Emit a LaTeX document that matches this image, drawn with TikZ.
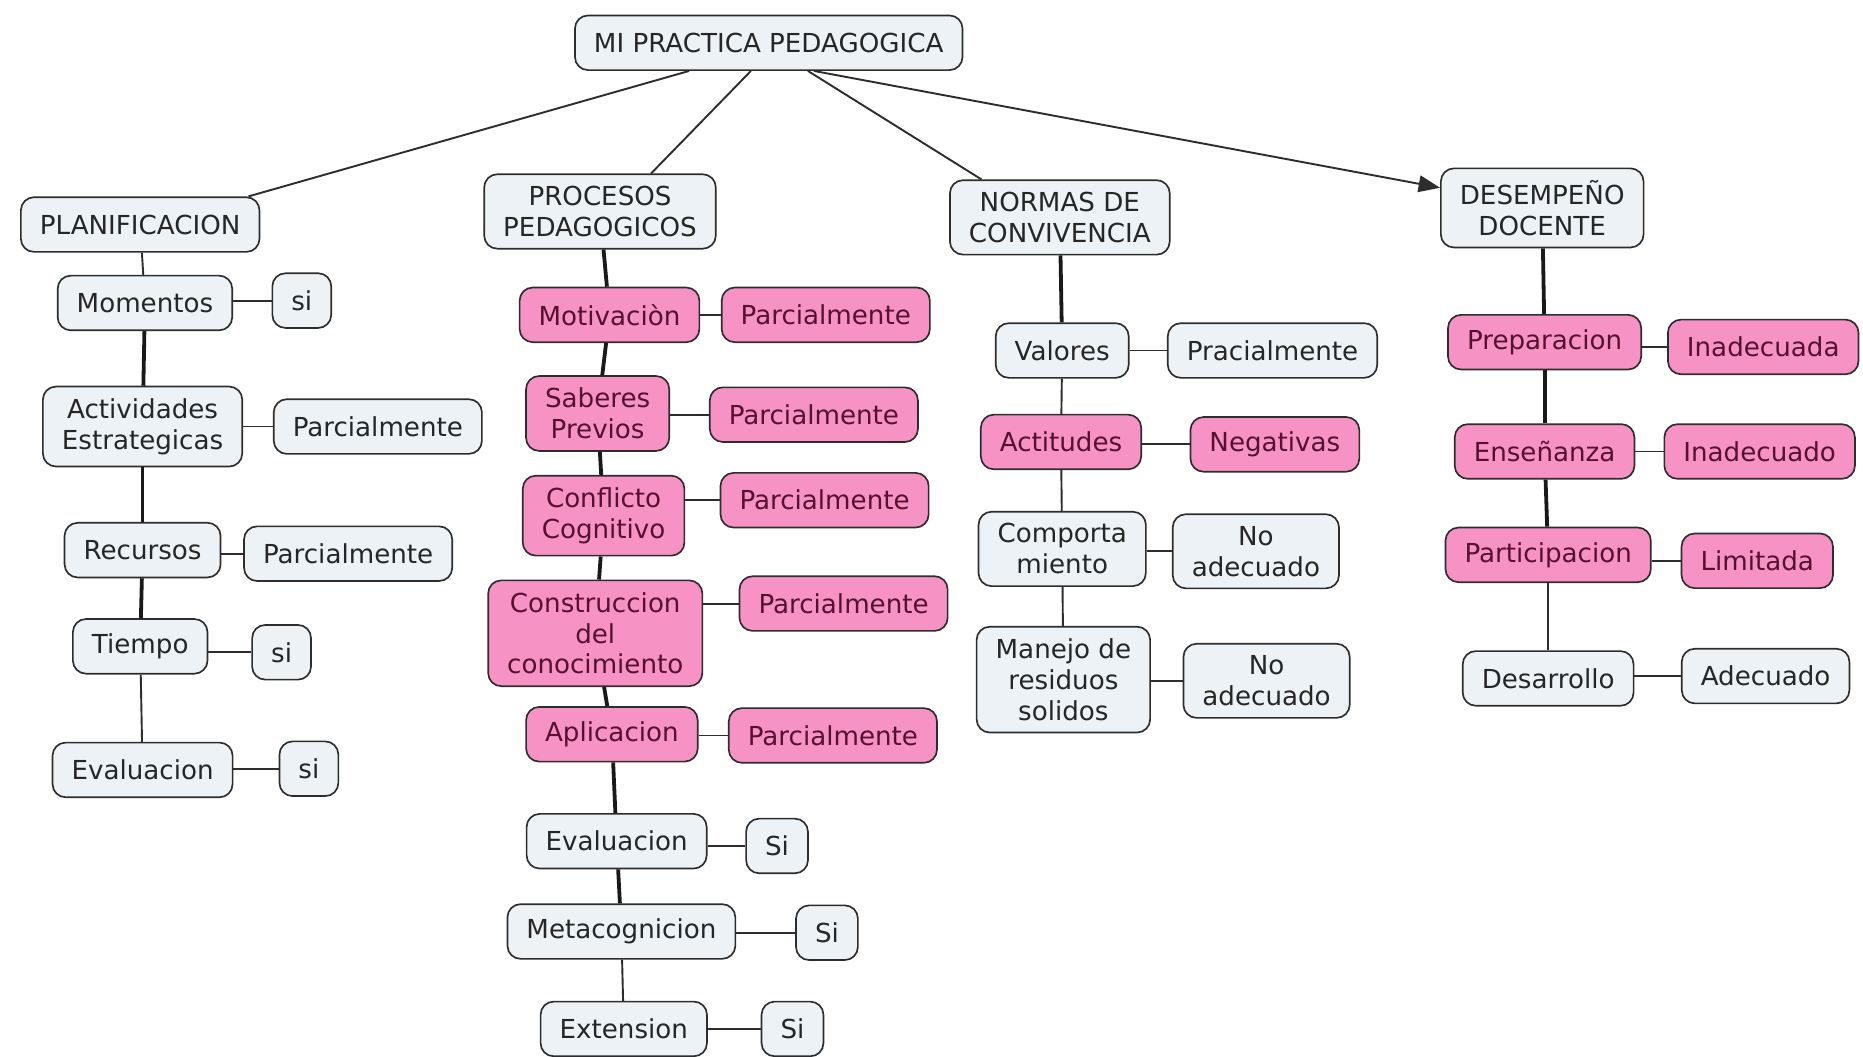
\documentclass[tikz,border=0pt]{standalone}
\usepackage{fontspec}
\setmainfont{DejaVu Sans}
\usepackage{tikz}
\usetikzlibrary{arrows.meta}
\definecolor{boxgray}{RGB}{236,242,245}
\definecolor{boxpink}{RGB}{247,146,197}
\definecolor{inkpink}{RGB}{84,18,48}
\definecolor{edgegray}{RGB}{45,45,45}

\begin{document}
\begin{tikzpicture}[x=1pt, y=-1pt,
      every node/.append style={font=\fontsize{22}{26}\selectfont, align=center},
      link/.style={draw=edgegray, line width=1.6pt},
      trunk/.style={draw=black!90, line width=3.2pt}]
    \tikzstyle{concept} = [draw=edgegray, line width=1.4pt, rounded corners=11pt, fill=boxgray,
                           text=black!85, inner xsep=16pt, inner ysep=10pt, minimum height=46pt]
    \tikzstyle{rated} = [concept, fill=boxpink, text=inkpink]
    \path[fill=white] (0,0) rectangle (1568,889);
    \useasboundingbox (0,0) rectangle (1568,889);

    \node[concept] (top) at (647,36) {MI PRACTICA PEDAGOGICA};

    \node[concept] (plan) at (118,189) {PLANIFICACION};
    \node[concept] (mom) at (122,255) {Momentos};
    \node[concept] (momsi) at (254,253) {si};
    \node[concept] (act) at (120,359) {Actividades\\Estrategicas};
    \node[concept] (actp) at (318,359) {Parcialmente};
    \node[concept] (rec) at (120,463) {Recursos};
    \node[concept] (recp) at (293,466) {Parcialmente};
    \node[concept] (tie) at (118,544) {Tiempo};
    \node[concept] (tiesi) at (237,549) {si};
    \node[concept] (eval) at (120,648) {Evaluacion};
    \node[concept] (evalsi) at (260,647) {si};

    \node[concept] (proc) at (505,178) {PROCESOS\\PEDAGOGICOS};
    \node[rated] (mot) at (513,265) {Motivaciòn};
    \node[rated] (motp) at (695,265) {Parcialmente};
    \node[rated] (sab) at (503,348) {Saberes\\Previos};
    \node[rated] (sabp) at (685,349) {Parcialmente};
    \node[rated] (con) at (508,434) {Conflicto\\Cognitivo};
    \node[rated] (conp) at (694,421) {Parcialmente};
    \node[rated] (cons) at (501,533) {Construccion\\del\\conocimiento};
    \node[rated] (consp) at (710,508) {Parcialmente};
    \node[rated] (apl) at (515,618) {Aplicacion};
    \node[rated] (aplp) at (701,619) {Parcialmente};
    \node[concept] (evp) at (519,708) {Evaluacion};
    \node[concept] (evpsi) at (654,712) {Si};
    \node[concept] (meta) at (523,784) {Metacognicion};
    \node[concept] (metasi) at (696,785) {Si};
    \node[concept] (ext) at (525,866) {Extension};
    \node[concept] (extsi) at (667,866) {Si};

    \node[concept] (norm) at (892,183) {NORMAS DE\\CONVIVENCIA};
    \node[concept] (val) at (894,295) {Valores};
    \node[concept] (valp) at (1071,295) {Pracialmente};
    \node[rated] (actit) at (893,372) {Actitudes};
    \node[rated] (neg) at (1073,374) {Negativas};
    \node[concept] (comp) at (894,462) {Comporta\\miento};
    \node[concept] (compno) at (1057,464) {No\\adecuado};
    \node[concept] (man) at (895,572) {Manejo de\\residuos\\solidos};
    \node[concept] (manno) at (1066,573) {No\\adecuado};

    \node[concept] (des) at (1298,175) {DESEMPEÑO\\DOCENTE};
    \node[rated] (prep) at (1300,288) {Preparacion};
    \node[rated] (prepi) at (1484,292) {Inadecuada};
    \node[rated] (ens) at (1300,380) {Enseñanza};
    \node[rated] (ensi) at (1481,380) {Inadecuado};
    \node[rated] (part) at (1303,467) {Participacion};
    \node[rated] (lim) at (1479,472) {Limitada};
    \node[concept] (desa) at (1303,571) {Desarrollo};
    \node[concept] (adec) at (1486,569) {Adecuado};

    \draw[link] ([xshift=-67pt]top.south) -- ([xshift=-10pt]plan.north east);
    \draw[link] ([xshift=-15pt]top.south) -- ([xshift=43pt]proc.north);
    \draw[link] ([xshift=33pt]top.south) -- ([xshift=-66pt]norm.north);
    \draw[link, -{Triangle[length=18pt,width=14pt]}] ([xshift=38pt]top.south) -- ([yshift=17pt]des.west);

    \draw[link] (plan) -- (mom);
    \draw[trunk] (mom) -- (act);
    \draw[trunk] (act) -- (rec);
    \draw[trunk] (rec) -- (tie);
    \draw[link] (tie) -- (eval);
    \draw[link] (mom.east |- momsi) -- (momsi.west);
    \draw[link] (act.east |- actp) -- (actp.west);
    \draw[link] (rec.east |- recp) -- (recp.west);
    \draw[link] (tie.east |- tiesi) -- (tiesi.west);
    \draw[link] (eval.east |- evalsi) -- (evalsi.west);

    \draw[trunk] (proc) -- (mot);
    \draw[trunk] (mot) -- (sab);
    \draw[trunk] (sab) -- (con);
    \draw[trunk] (con) -- (cons);
    \draw[trunk] (cons) -- (apl);
    \draw[trunk] (apl) -- (evp);
    \draw[trunk] (evp) -- (meta);
    \draw[link] (meta) -- (ext);
    \draw[link] (mot.east |- motp) -- (motp.west);
    \draw[link] (sab.east |- sabp) -- (sabp.west);
    \draw[link] (con.east |- conp) -- (conp.west);
    \draw[link] (cons.east |- consp) -- (consp.west);
    \draw[link] (apl.east |- aplp) -- (aplp.west);
    \draw[link] (evp.east |- evpsi) -- (evpsi.west);
    \draw[link] (meta.east |- metasi) -- (metasi.west);
    \draw[link] (ext.east |- extsi) -- (extsi.west);

    \draw[trunk] (norm) -- (val);
    \draw[link] (val) -- (actit);
    \draw[link] (actit) -- (comp);
    \draw[link] (comp) -- (man);
    \draw[link] (val.east |- valp) -- (valp.west);
    \draw[link] (actit.east |- neg) -- (neg.west);
    \draw[link] (comp.east |- compno) -- (compno.west);
    \draw[link] (man.east |- manno) -- (manno.west);

    \draw[trunk] (des) -- (prep);
    \draw[trunk] (prep) -- (ens);
    \draw[trunk] (ens) -- (part);
    \draw[link] (part) -- (desa);
    \draw[link] (prep.east |- prepi) -- (prepi.west);
    \draw[link] (ens.east |- ensi) -- (ensi.west);
    \draw[link] (part.east |- lim) -- (lim.west);
    \draw[link] (desa.east |- adec) -- (adec.west);
  \end{tikzpicture}
\end{document}
